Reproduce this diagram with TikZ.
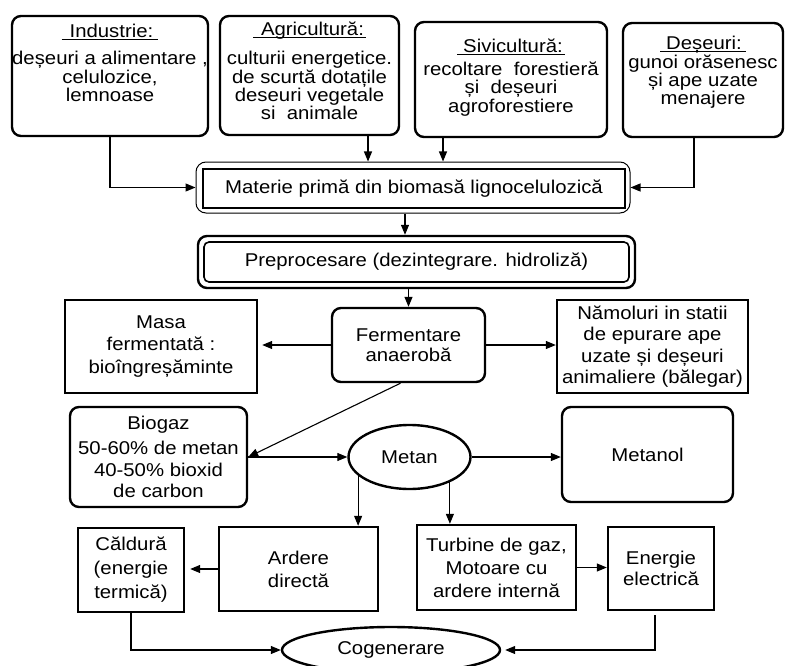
\documentclass[tikz,border=0pt]{standalone}
\usepackage{fontspec}
\setmainfont{Liberation Sans}[FakeStretch=1.1]
\usetikzlibrary{arrows.meta,shapes.geometric}
\newcommand\hdr[1]{\setbox0=\hbox{#1}\rlap{\rule[-2.6pt]{\wd0}{1.2pt}}\box0}
\begin{document}
\begin{tikzpicture}[x=1pt,y=-1pt,
 every node/.style={font=\fontsize{18.5}{22}\selectfont, inner sep=0pt, align=center},
 thickbox/.style={draw, line width=2.4pt},
 rbox/.style={thickbox, rounded corners=9pt},
 sbox/.style={thickbox},
 conn/.style={draw, line width=1.1pt, -{Triangle[length=10pt,width=8pt]}}]
\useasboundingbox (0,0) rectangle (787,666);
\clip (0,0) rectangle (787,666);
\fill[white] (0,0) rectangle (787,666);

% top sources
\node[rbox, minimum width=196pt, minimum height=120pt] (ind) at (110,76) {};
\node[anchor=north, font=\fontsize{18.5}{18.5}\selectfont] (indt) at ([yshift=-9pt]ind.north)
  {\hdr{\hspace{8pt}Industrie:\hspace{5pt}}\\[9pt] deșeuri a alimentare ,\\ celulozice,\\ lemnoase};
\node[rbox, minimum width=179pt, minimum height=119pt] (agr) at (309.5,75.5) {};
\node[anchor=north, font=\fontsize{18.5}{17}\selectfont] (agrt) at ([yshift=-7pt]agr.north)
  {\hdr{\hspace{8pt}Agricultură:\hspace{2pt}}\\[11pt] culturii energetice.\\ de scurtă dotațile\\ deseuri vegetale\\ si\ \ animale};
\node[rbox, minimum width=192pt, minimum height=115pt] (siv) at (511,79.5) {};
\node[anchor=north, font=\fontsize{18.5}{18.5}\selectfont] (sivt) at ([yshift=-18pt]siv.north)
  {\hdr{\hspace{6pt}Sivicultură:\hspace{2pt}}\\[4pt] recoltare\ \ forestieră\\ și\ \ deșeuri\\ agroforestiere};
\node[rbox, minimum width=160pt, minimum height=114pt] (des) at (703,80) {};
\node[anchor=north, font=\fontsize{18.5}{18}\selectfont] (dest) at ([yshift=-14pt]des.north)
  {\hdr{\hspace{6pt}Deșeuri:\hspace{4pt}}\\[1pt] gunoi orăsenesc\\ și ape uzate\\ menajere};

% raw material
\node[draw, line width=1pt, rounded corners=10pt, minimum width=434pt, minimum height=51pt] (mat) at (413,187.5) {};
\node[sbox, minimum width=422pt, minimum height=39pt] (matin) at (414,188.5) {Materie primă din biomasă lignocelulozică};

% preprocessing
\node[rbox, minimum width=437pt, minimum height=52pt] (pre) at (416.5,262) {};
\node[draw, line width=1.6pt, rounded corners=5pt, minimum width=425pt, minimum height=40pt] (prein) at (416.5,262) {Preprocesare (dezintegrare. hidroliză)};

% fermentation row
\node[rbox, minimum width=153pt, minimum height=74pt, font=\fontsize{18.5}{20}\selectfont] (fer) at (408.5,345) {Fermentare\\anaerobă};
\node[sbox, minimum width=192pt, minimum height=93pt, font=\fontsize{18.5}{22.5}\selectfont] (mas) at (161,346.5) {Masa\\ fermentată :\\ bioîngreșăminte};
\node[sbox, minimum width=191pt, minimum height=93pt, font=\fontsize{18.5}{21.5}\selectfont] (nam) at (652.5,346.5) {Nămoluri in statii\\ de epurare ape\\ uzate și deșeuri\\ animaliere (bălegar)};

% biogas row
\node[rbox, minimum width=177pt, minimum height=100pt, font=\fontsize{18.5}{21.5}\selectfont] (bio) at (158.5,457) {Biogaz\\[4pt] 50-60\% de metan\\ 40-50\% bioxid\\ de carbon};
\node[ellipse, thickbox, minimum width=122pt, minimum height=64pt] (met) at (409.5,457) {Metan};
\node[rbox, minimum width=171pt, minimum height=95pt] (mol) at (647.5,454.5) {Metanol};

% uses
\node[sbox, minimum width=159pt, minimum height=84pt, font=\fontsize{18.5}{23}\selectfont] (ard) at (298.5,569) {Ardere\\ directă};
\node[sbox, minimum width=106pt, minimum height=84pt, font=\fontsize{18.5}{24}\selectfont] (cal) at (131,570) {Căldură\\ (energie\\ termică)};
\node[sbox, minimum width=159pt, minimum height=85pt, font=\fontsize{18.5}{23}\selectfont] (tur) at (496.5,567.5) {Turbine de gaz,\\ Motoare cu\\ ardere internă};
\node[sbox, minimum width=106pt, minimum height=83pt, font=\fontsize{18.5}{21}\selectfont] (ene) at (661,568.5) {Energie\\ electrică};
\node[ellipse, thickbox, minimum width=218pt, minimum height=46pt] (cog) at (391,650) {Cogenerare};

% connectors
\coordinate (a1) at ([xshift=58.5pt]agr.south);
\coordinate (s1) at ([xshift=-68pt]siv.south);
\coordinate (d1) at ([xshift=-9pt]des.south);
\coordinate (m1) at ([xshift=-8pt]mat.south);
\coordinate (f1) at ([xshift=-8pt]fer.south);
\coordinate (e1) at ([xshift=-6pt,yshift=-4pt]ene.south);
\draw[conn] (ind.south) |- (mat.west);
\draw[conn] (a1) -- (a1 |- mat.north);
\draw[conn] (s1) -- (s1 |- mat.north);
\draw[conn] (d1) |- (mat.east);
\draw[conn] (m1) -- (m1 |- pre.north);
\draw[conn] (pre.south -| fer.north) -- (fer.north);
\draw[conn, shorten >=4pt] (fer.west) -- (fer.west -| mas.east);
\draw[conn] (fer.east) -- (fer.east -| nam.west);
\draw[conn] (f1) -- (bio.east);
\draw[conn] (bio.east) -- (met.west);
\draw[conn] (met.east) -- (met.east -| mol.west);
\draw[conn] (met.200) -- (met.200 |- ard.north);
\draw[conn] (met.328) -- (met.328 |- tur.north);
\draw[conn, shorten >=5pt] (ard.west) -- (ard.west -| cal.east);
\draw[conn] (tur.east) -- (tur.east -| ene.west);
\draw[conn] (cal.south) |- (cog.west);
\draw[conn, shorten >=4pt] (e1) |- (cog.east);
\end{tikzpicture}
\end{document}
